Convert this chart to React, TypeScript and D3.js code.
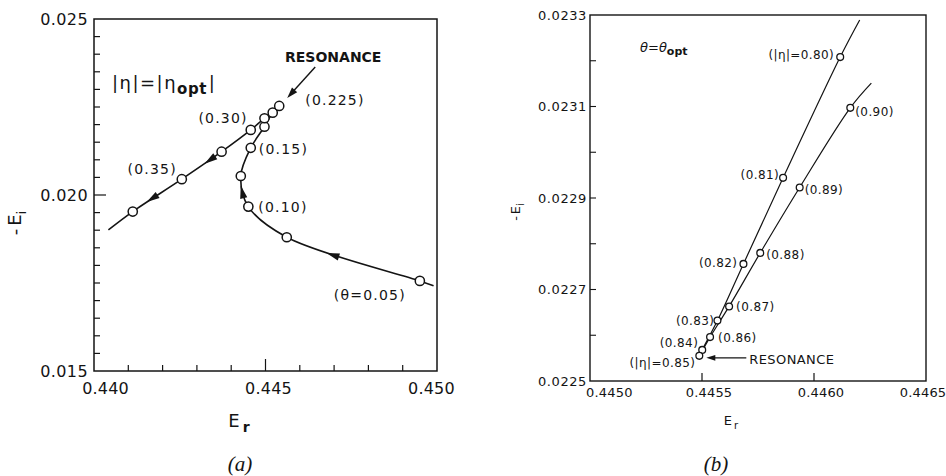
import React, { useEffect, useRef } from 'react';
import * as d3 from 'd3';

// ---------- Panel (a): |η| = |η_opt|, θ varies ----------
// lower branch (θ from 0.05 up to resonance at 0.225)
const aLowerEr = [0.4499, 0.4495, 0.44562, 0.4445, 0.44428, 0.44457, 0.44497, 0.44521, 0.4454];
const aLowerEi = [0.01742, 0.01756, 0.0188, 0.01967, 0.02054, 0.02134, 0.02194, 0.02234, 0.02253];
// upper branch (θ from 0.225 to beyond 0.35)
const aUpperEr = [0.4454, 0.44521, 0.44497, 0.44457, 0.44372, 0.44256, 0.44113, 0.44042];
const aUpperEi = [0.02253, 0.02234, 0.02218, 0.02185, 0.02123, 0.02045, 0.01953, 0.01901];
// computed points (circles)
const aMarkEr = [0.4495, 0.44562, 0.4445, 0.44428, 0.44457, 0.44497, 0.44497, 0.44521, 0.4454, 0.44457, 0.44372, 0.44256, 0.44113];
const aMarkEi = [0.01756, 0.0188, 0.01967, 0.02054, 0.02134, 0.02194, 0.02218, 0.02234, 0.02253, 0.02185, 0.02123, 0.02045, 0.01953];
const aLabelText = ['(θ=0.05)', '(0.10)', '(0.15)', '(0.225)', '(0.30)', '(0.35)'];
const aLabelMark = [0, 2, 4, 8, 9, 11];
const aXTickLabels = [0.44, 0.445, 0.45];
const aYTickLabels = [0.015, 0.02, 0.025];

// ---------- Panel (b): θ = θ_opt, |η| varies ----------
const bLine1Er = [0.446204, 0.446117, 0.445862, 0.445685, 0.445569, 0.445501, 0.445488];
const bLine1Ei = [0.023289, 0.023208, 0.022944, 0.022756, 0.022632, 0.022568, 0.022555];
const bLine2Er = [0.445488, 0.445536, 0.445621, 0.44576, 0.445936, 0.446162, 0.446256];
const bLine2Ei = [0.022555, 0.022596, 0.022663, 0.02278, 0.022923, 0.023097, 0.023151];
const bMarkEr = [0.446117, 0.445862, 0.445685, 0.445569, 0.445501, 0.445488, 0.445536, 0.445621, 0.44576, 0.445936, 0.446162];
const bMarkEi = [0.023208, 0.022944, 0.022756, 0.022632, 0.022568, 0.022555, 0.022596, 0.022663, 0.02278, 0.022923, 0.023097];
const bLabelText = ['(|η|=0.80)', '(0.81)', '(0.82)', '(0.83)', '(0.84)', '(|η|=0.85)', '(0.86)', '(0.87)', '(0.88)', '(0.89)', '(0.90)'];
const bXTickLabels = [0.445, 0.4455, 0.446, 0.4465];
const bYTickLabels = [0.0225, 0.0227, 0.0229, 0.0231, 0.0233];

const INK = '#141414';
const SANS = '"DejaVu Sans", "Liberation Sans", sans-serif';
const SERIF = '"Liberation Serif", "DejaVu Serif", serif';

type Sel = d3.Selection<any, any, any, any>;

function arrowOnPath(g: Sel, node: SVGPathElement, target: [number, number], len: number, hw: number) {
  const total = node.getTotalLength();
  let best = 0;
  let bd = Infinity;
  for (let l = 0; l <= total; l += 0.5) {
    const p = node.getPointAtLength(l);
    const d = (p.x - target[0]) ** 2 + (p.y - target[1]) ** 2;
    if (d < bd) { bd = d; best = l; }
  }
  const p0 = node.getPointAtLength(Math.max(0, best - 2));
  const p1 = node.getPointAtLength(Math.min(total, best + 2));
  const c = node.getPointAtLength(best);
  arrowHead(g, [c.x, c.y], [p1.x - p0.x, p1.y - p0.y], len, hw, true);
}

function arrowHead(g: Sel, c: [number, number], dir: [number, number], len: number, hw: number, centered: boolean) {
  const n = Math.hypot(dir[0], dir[1]);
  const ux = dir[0] / n, uy = dir[1] / n;
  const px = -uy, py = ux;
  const tip: [number, number] = centered ? [c[0] + ux * len / 2, c[1] + uy * len / 2] : c;
  const bx = tip[0] - ux * len, by = tip[1] - uy * len;
  g.append('path')
    .attr('d', `M${tip[0]},${tip[1]}L${bx + px * hw},${by + py * hw}L${bx - px * hw},${by - py * hw}Z`)
    .attr('fill', INK);
}

function drawA(svg: Sel) {
  const x = d3.scaleLinear().domain([0.44, 0.45]).range([94, 437]);
  const y = d3.scaleLinear().domain([0.015, 0.025]).range([371, 19]);
  const g = svg.append('g');
  const [x0, x1] = x.range();
  const [y1, y0] = y.range();

  // ticks (inward)
  y.ticks(20).forEach((v) => {
    if (Math.abs(v - 0.015) < 1e-9 || Math.abs(v - 0.025) < 1e-9) return;
    const major = Math.abs(v - 0.02) < 1e-9;
    g.append('line').attr('x1', x0).attr('x2', x0 + (major ? 12 : 6))
      .attr('y1', y(v)).attr('y2', y(v)).attr('stroke', INK).attr('stroke-width', 1.2);
  });
  x.ticks(10).forEach((v) => {
    if (Math.abs(v - 0.44) < 1e-9 || Math.abs(v - 0.45) < 1e-9) return;
    const major = Math.abs(v - 0.445) < 1e-9;
    g.append('line').attr('x1', x(v)).attr('x2', x(v))
      .attr('y1', y1).attr('y2', y1 - (major ? 12 : 6)).attr('stroke', INK).attr('stroke-width', 1.2);
  });
  g.append('rect').attr('x', x0).attr('y', y0).attr('width', x1 - x0).attr('height', y1 - y0)
    .attr('fill', 'none').attr('stroke', INK).attr('stroke-width', 1.5);

  // tick labels
  const fmt = d3.format('.3f');
  aYTickLabels.forEach((v) => {
    g.append('text').attr('x', x0 - 6).attr('y', y(v)).attr('text-anchor', 'end')
      .attr('dominant-baseline', 'central').attr('font-family', SANS).attr('font-size', 16)
      .attr('letter-spacing', 0.4).attr('fill', INK).text(fmt(v));
  });
  const cx = (x0 + x1) / 2;
  aXTickLabels.forEach((v) => {
    const xp = cx + (x(v) - cx) * 0.95 + 3;
    g.append('text').attr('x', xp).attr('y', 388).attr('text-anchor', 'middle')
      .attr('dominant-baseline', 'central').attr('font-family', SANS).attr('font-size', 16)
      .attr('letter-spacing', 0.2).attr('fill', INK).text(fmt(v));
  });

  // curves
  const line = d3.line<[number, number]>().x((d) => x(d[0])).y((d) => y(d[1])).curve(d3.curveCatmullRom.alpha(0.5));
  const lower = g.append('path').attr('d', line(aLowerEr.map((e, i) => [e, aLowerEi[i]]))!)
    .attr('fill', 'none').attr('stroke', INK).attr('stroke-width', 1.6);
  const upper = g.append('path').attr('d', line(aUpperEr.map((e, i) => [e, aUpperEi[i]]))!)
    .attr('fill', 'none').attr('stroke', INK).attr('stroke-width', 1.6);

  // direction arrows
  const mp = (i: number): [number, number] => [x(aMarkEr[i]), y(aMarkEi[i])];
  const lerp = (a: [number, number], b: [number, number], t: number): [number, number] => [a[0] + (b[0] - a[0]) * t, a[1] + (b[1] - a[1]) * t];
  arrowOnPath(g, lower.node() as SVGPathElement, lerp(mp(0), mp(1), 0.65), 13, 3.6);
  arrowOnPath(g, lower.node() as SVGPathElement, lerp(mp(2), mp(3), 0.5), 13, 3.6);
  arrowOnPath(g, upper.node() as SVGPathElement, lerp(mp(10), mp(11), 0.3), 13, 3.6);
  arrowOnPath(g, upper.node() as SVGPathElement, lerp(mp(11), mp(12), 0.6), 13, 3.6);

  // markers
  aMarkEr.forEach((e, i) => {
    g.append('circle').attr('cx', x(e)).attr('cy', y(aMarkEi[i])).attr('r', 4.6)
      .attr('fill', '#fff').attr('stroke', INK).attr('stroke-width', 1.5);
  });

  // point labels
  const lay: { a: string; dx: number; dy: number }[] = [
    { a: 'end', dx: -14, dy: 14 },
    { a: 'start', dx: 10, dy: 0 },
    { a: 'start', dx: 8, dy: 1 },
    { a: 'start', dx: 26, dy: -6 },
    { a: 'end', dx: -3, dy: -12 },
    { a: 'end', dx: -5, dy: -10 },
  ];
  aLabelText.forEach((t, k) => {
    const [px, py] = mp(aLabelMark[k]);
    g.append('text').attr('x', px + lay[k].dx).attr('y', py + lay[k].dy).attr('text-anchor', lay[k].a)
      .attr('dominant-baseline', 'central').attr('font-family', SANS).attr('font-size', 14)
      .attr('letter-spacing', 1.2).attr('fill', INK).text(t);
  });

  // RESONANCE annotation
  const [rx, ry] = mp(8);
  g.append('line').attr('x1', rx + 36).attr('y1', ry - 39).attr('x2', rx + 12).attr('y2', ry - 12.5)
    .attr('stroke', INK).attr('stroke-width', 1.4);
  arrowHead(g, [rx + 8, ry - 8], [-28, 31], 11, 3.5, false);
  g.append('text').attr('x', 285).attr('y', 62).attr('font-family', SANS).attr('font-size', 14)
    .attr('font-weight', 'bold').attr('fill', INK).text('RESONANCE');

  // |η| = |η_opt|
  const t1 = g.append('text').attr('x', 112).attr('y', 89).attr('font-family', SANS).attr('font-size', 18)
    .attr('letter-spacing', 1.5).attr('fill', INK);
  t1.append('tspan').text('|η|=|η');
  t1.append('tspan').attr('dy', 5).attr('font-size', 15).attr('font-weight', 'bold').attr('letter-spacing', 0.5).text('opt');
  t1.append('tspan').attr('dx', 2).attr('dy', -5).text('|');

  // axis titles
  const xt = g.append('text').attr('x', 239).attr('y', 427).attr('text-anchor', 'middle')
    .attr('font-family', SANS).attr('font-size', 18).attr('fill', INK);
  xt.append('tspan').text('E');
  xt.append('tspan').attr('dx', 3).attr('dy', 5).attr('font-size', 14).attr('font-weight', 'bold').text('r');
  const yt = g.append('text').attr('transform', 'translate(21,223) rotate(-90)').attr('text-anchor', 'middle')
    .attr('font-family', SANS).attr('font-size', 18).attr('fill', INK);
  yt.append('tspan').text('-');
  yt.append('tspan').attr('dx', 3).text('E');
  yt.append('tspan').attr('dy', 5).attr('font-size', 13).text('i');

  g.append('text').attr('x', 240).attr('y', 471).attr('text-anchor', 'middle').attr('font-family', SERIF)
    .attr('font-style', 'italic').attr('font-size', 21).attr('fill', INK).text('(a)');
}

function drawB(svg: Sel) {
  const x = d3.scaleLinear().domain([0.445, 0.4465]).range([590, 926]);
  const y = d3.scaleLinear().domain([0.0225, 0.0233]).range([381, 15]);
  const g = svg.append('g');
  const [x0, x1] = x.range();
  const [y1, y0] = y.range();

  y.ticks(8).forEach((v) => {
    if (Math.abs(v - 0.0225) < 1e-9 || Math.abs(v - 0.0233) < 1e-9) return;
    g.append('line').attr('x1', x0).attr('x2', x0 + 6).attr('y1', y(v)).attr('y2', y(v))
      .attr('stroke', INK).attr('stroke-width', 1.1);
  });
  x.ticks(3).forEach((v) => {
    if (Math.abs(v - 0.445) < 1e-9 || Math.abs(v - 0.4465) < 1e-9) return;
    g.append('line').attr('x1', x(v)).attr('x2', x(v)).attr('y1', y1).attr('y2', y1 - 8)
      .attr('stroke', INK).attr('stroke-width', 1.2);
  });
  g.append('rect').attr('x', x0).attr('y', y0).attr('width', x1 - x0).attr('height', y1 - y0)
    .attr('fill', 'none').attr('stroke', INK).attr('stroke-width', 1.4);

  const fmt = d3.format('.4f');
  bYTickLabels.forEach((v) => {
    g.append('text').attr('x', x0 - 3).attr('y', y(v)).attr('text-anchor', 'end')
      .attr('dominant-baseline', 'central').attr('font-family', SANS).attr('font-size', 13)
      .attr('letter-spacing', 0.6).attr('fill', INK).text(fmt(v));
  });
  bXTickLabels.forEach((v, i) => {
    const last = i === bXTickLabels.length - 1;
    const first = i === 0;
    g.append('text').attr('x', first ? x(v) - 4 : last ? x(v) - 3 : x(v) + 7).attr('y', 392)
      .attr('text-anchor', first ? 'start' : 'middle')
      .attr('dominant-baseline', 'central').attr('font-family', SANS).attr('font-size', 13)
      .attr('letter-spacing', 0.2).attr('fill', INK).text(fmt(v));
  });

  const line = d3.line<[number, number]>().x((d) => x(d[0])).y((d) => y(d[1])).curve(d3.curveCatmullRom.alpha(0.5));
  g.append('path').attr('d', line(bLine1Er.map((e, i) => [e, bLine1Ei[i]]))!)
    .attr('fill', 'none').attr('stroke', INK).attr('stroke-width', 1.2);
  g.append('path').attr('d', line(bLine2Er.map((e, i) => [e, bLine2Ei[i]]))!)
    .attr('fill', 'none').attr('stroke', INK).attr('stroke-width', 1.2);

  const mp = (i: number): [number, number] => [x(bMarkEr[i]), y(bMarkEi[i])];
  bMarkEr.forEach((e, i) => {
    g.append('circle').attr('cx', x(e)).attr('cy', y(bMarkEi[i])).attr('r', 3.4)
      .attr('fill', '#fff').attr('stroke', INK).attr('stroke-width', 1.3);
  });

  const lay: { a: string; dx: number; dy: number }[] = [
    { a: 'end', dx: -6, dy: -2 },
    { a: 'end', dx: -4, dy: -3 },
    { a: 'end', dx: -6, dy: -1 },
    { a: 'end', dx: -3, dy: 0 },
    { a: 'end', dx: -4, dy: -7 },
    { a: 'end', dx: -4, dy: 7 },
    { a: 'start', dx: 8, dy: 1 },
    { a: 'start', dx: 7, dy: 1 },
    { a: 'start', dx: 6, dy: 2 },
    { a: 'start', dx: 5, dy: 3 },
    { a: 'start', dx: 5, dy: 4 },
  ];
  bLabelText.forEach((t, k) => {
    const [px, py] = mp(k);
    g.append('text').attr('x', px + lay[k].dx).attr('y', py + lay[k].dy).attr('text-anchor', lay[k].a)
      .attr('dominant-baseline', 'central').attr('font-family', SANS).attr('font-size', 12)
      .attr('letter-spacing', 0.4).attr('fill', INK).text(t);
  });

  // RESONANCE annotation
  const [rx, ry] = mp(5);
  g.append('line').attr('x1', rx + 47).attr('y1', ry + 2).attr('x2', rx + 14).attr('y2', ry + 2)
    .attr('stroke', INK).attr('stroke-width', 1.1);
  arrowHead(g, [rx + 7, ry + 2], [-1, 0], 9, 2.8, false);
  g.append('text').attr('x', rx + 50).attr('y', ry + 4).attr('dominant-baseline', 'central')
    .attr('font-family', SANS).attr('font-size', 13).attr('letter-spacing', 0.4).attr('fill', INK).text('RESONANCE');

  // θ = θ_opt
  const t1 = g.append('text').attr('x', 640).attr('y', 52).attr('font-family', SANS).attr('font-size', 13).attr('fill', INK);
  t1.append('tspan').attr('font-style', 'italic').text('θ');
  t1.append('tspan').text('=');
  t1.append('tspan').attr('font-style', 'italic').text('θ');
  t1.append('tspan').attr('dy', 3).attr('font-size', 11).attr('font-weight', 'bold').text('opt');

  const xt = g.append('text').attr('x', 731).attr('y', 425).attr('text-anchor', 'middle')
    .attr('font-family', SANS).attr('font-size', 13).attr('fill', INK);
  xt.append('tspan').text('E');
  xt.append('tspan').attr('dx', 2).attr('dy', 4).attr('font-size', 10).text('r');
  const yt = g.append('text').attr('transform', 'translate(520,212) rotate(-90)').attr('text-anchor', 'middle')
    .attr('font-family', SANS).attr('font-size', 13).attr('fill', INK);
  yt.append('tspan').text('-');
  yt.append('tspan').attr('dx', 2).text('E');
  yt.append('tspan').attr('dy', 4).attr('font-size', 10).text('i');

  g.append('text').attr('x', 716).attr('y', 471).attr('text-anchor', 'middle').attr('font-family', SERIF)
    .attr('font-style', 'italic').attr('font-size', 21).attr('fill', INK).text('(b)');
}

export default function App() {
  const ref = useRef<SVGSVGElement>(null);
  useEffect(() => {
    const svg = d3.select(ref.current);
    svg.selectAll('*').remove();
    drawA(svg);
    drawB(svg);
  }, []);
  return (
    <svg
      ref={ref}
      width={946}
      height={476}
      style={{ position: 'absolute', left: 0, top: 0, background: '#fff' }}
    />
  );
}
